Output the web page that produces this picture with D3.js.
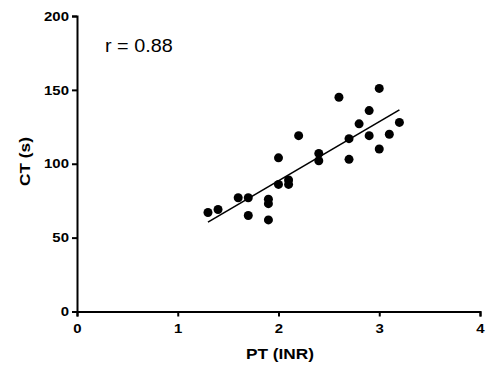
<!DOCTYPE html>
<html><head><meta charset="utf-8">
<script src="https://cdn.jsdelivr.net/npm/d3@7"></script>
<style>body{margin:0;background:#fff}svg{display:block}</style>
</head><body>
<script>
const ptINR = [1.3,1.4,1.6,1.7,1.7,1.9,1.9,1.9,2.0,2.0,2.1,2.1,2.2,2.4,2.4,2.6,2.7,2.7,2.8,2.9,2.9,3.0,3.0,3.1,3.2];
const ctSec = [67,69,77,77,65,76,73,62,104,86,89,86,119,107,102,145,117,103,127,136,119,151,110,120,128];
const fitX = [1.3, 3.2];
const fitY = [60.5, 136.5];
const xTicks = [0,1,2,3,4];
const yTicks = [0,50,100,150,200];
const rLabel = "r = 0.88";

const W=500,H=380, SX=1.15;
const svg=d3.select("body").append("svg").attr("width",W).attr("height",H);
const x=d3.scaleLinear().domain([0,4]).range([77,480]);
const y=d3.scaleLinear().domain([0,200]).range([311.5,16]);
const font="'Liberation Sans', Arial, sans-serif";

const gx=svg.append("g").attr("transform",`translate(0,${y(0)})`)
  .call(d3.axisBottom(x).tickValues(xTicks).tickSize(5).tickPadding(7).tickFormat(d3.format("d")));
const gy=svg.append("g").attr("transform",`translate(${x(0)},0)`)
  .call(d3.axisLeft(y).tickValues(yTicks).tickSize(5).tickPadding(2).tickFormat(d3.format("d")));
[gx,gy].forEach(g=>{
  g.select(".domain").attr("stroke","#000").attr("stroke-width",2);
  g.selectAll(".tick line").attr("stroke","#000").attr("stroke-width",2);
  g.selectAll("text").attr("font-family",font).attr("font-weight","bold").attr("font-size",13).attr("fill","#000")
   .attr("transform",`scale(${SX},1)`);
});

svg.append("text").attr("transform",`translate(280,358.5) scale(${SX},1)`).attr("text-anchor","middle")
  .attr("font-family",font).attr("font-weight","bold").attr("font-size",15).text("PT (INR)");
svg.append("text").attr("transform",`translate(29.5,161.5) rotate(-90) scale(${SX},1)`).attr("text-anchor","middle")
  .attr("font-family",font).attr("font-weight","bold").attr("font-size",15).text("CT (s)");

svg.append("line").attr("x1",x(fitX[0])).attr("y1",y(fitY[0])).attr("x2",x(fitX[1])).attr("y2",y(fitY[1]))
  .attr("stroke","#000").attr("stroke-width",1.6);

svg.append("g").selectAll("circle").data(ptINR.map((v,i)=>[v,ctSec[i]])).join("circle")
  .attr("cx",d=>x(d[0])).attr("cy",d=>y(d[1])).attr("r",4.5).attr("fill","#000");

svg.append("text").attr("transform",`translate(105,51.7) scale(1.1,1)`).attr("font-family",font).attr("font-size",18).text(rLabel);
</script>
</body></html>
